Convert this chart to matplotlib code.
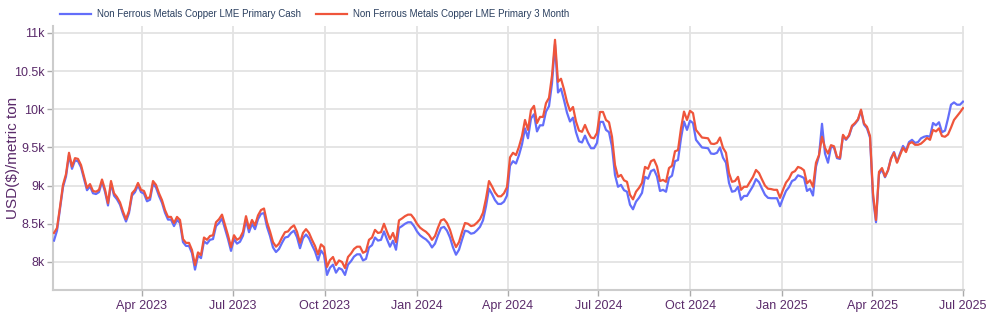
from matplotlib import pyplot as plt
import matplotlib.dates as mdates
import numpy as np
import pandas as pd

# ---- data (roughly every 3 days) ----
start_date = "2023-01-03"
end_date = "2025-07-01"

three_month = [
    8380, 8445, 8720, 9010, 9150, 9430, 9250, 9360, 9350, 9270,
    9120, 8970, 9020, 8930, 8920, 8945, 9080, 8950, 8770, 9060,
    8900, 8850, 8780, 8660, 8560, 8670, 8900, 8945, 9035, 8945,
    8930, 8830, 8850, 9060, 9010, 8900, 8810, 8680, 8590, 8590,
    8510, 8590, 8550, 8300, 8250, 8250, 8155, 7960, 8125, 8090,
    8320, 8290, 8340, 8350, 8520, 8560, 8620, 8485, 8350, 8195,
    8350, 8290, 8315, 8395, 8600, 8440, 8550, 8480, 8610, 8680,
    8700, 8520, 8400, 8260, 8200, 8240, 8320, 8390, 8400, 8450,
    8480, 8395, 8250, 8380, 8430, 8380, 8290, 8210, 8100, 8230,
    8195, 7935, 8025, 8065, 7960, 8020, 8000, 7920, 8065, 8110,
    8170, 8200, 8200, 8120, 8140, 8290, 8320, 8420, 8380, 8390,
    8500, 8395, 8300, 8380, 8260, 8545, 8570, 8600, 8620, 8620,
    8570, 8500, 8450, 8420, 8395, 8355, 8290, 8340, 8450, 8545,
    8560, 8510, 8420, 8290, 8195, 8260, 8390, 8510, 8500, 8470,
    8480, 8515, 8560, 8645, 8830, 9060, 8990, 8910, 8860, 8860,
    8900, 8980, 9370, 9430, 9400, 9510, 9650, 9860, 9730, 9990,
    10045, 9820, 9900, 9900, 10080, 10150, 10440, 10910, 10360, 10400,
    10260, 10095, 9980, 10030, 9840, 9720, 9705, 9795, 9700, 9630,
    9620, 9690, 9965, 9965, 9860, 9830, 9640, 9270, 9115, 9140,
    9070, 9050, 8880, 8820, 8920, 8970, 9035, 9245, 9220, 9320,
    9340, 9250, 9060, 9075, 9050, 9230, 9260, 9450, 9465, 9750,
    9970, 9860, 9980, 9950, 9730, 9680, 9630, 9625, 9620, 9550,
    9545, 9560, 9630, 9495, 9430, 9165, 9050, 9060, 9115, 8945,
    8985, 8985, 9050, 9115, 9205, 9165, 9080, 9000, 8960, 8955,
    8945, 8945, 8840, 8945, 9040, 9090, 9170, 9190, 9245, 9230,
    9200, 9030, 9070, 8985, 9300, 9400, 9640, 9495, 9420, 9530,
    9515, 9375, 9365, 9665, 9610, 9660, 9785, 9820, 9870, 9995,
    9815, 9770, 9650, 8900, 8550, 9180, 9230, 9120, 9200, 9350,
    9430, 9300, 9400, 9495, 9440, 9550, 9570, 9535, 9535, 9550,
    9585, 9625, 9600, 9730, 9710, 9750, 9650, 9640, 9670, 9760,
    9860, 9910, 9960, 10015,
]

cash = [
    8280, 8410, 8690, 8980, 9120, 9400, 9220, 9330, 9320, 9240,
    9090, 8940, 8990, 8900, 8890, 8915, 9050, 8920, 8740, 9030,
    8870, 8820, 8750, 8630, 8530, 8640, 8870, 8915, 9005, 8915,
    8895, 8795, 8815, 9025, 8975, 8865, 8775, 8645, 8555, 8555,
    8470, 8550, 8510, 8260, 8210, 8210, 8115, 7900, 8085, 8050,
    8270, 8240, 8290, 8300, 8470, 8510, 8570, 8435, 8300, 8145,
    8300, 8240, 8265, 8345, 8550, 8390, 8500, 8430, 8560, 8630,
    8640, 8460, 8340, 8190, 8130, 8170, 8250, 8320, 8330, 8380,
    8410, 8325, 8180, 8310, 8360, 8310, 8220, 8140, 8020, 8150,
    8095, 7830, 7925, 7965, 7860, 7920, 7900, 7830, 7965, 8010,
    8070, 8100, 8100, 8020, 8040, 8190, 8220, 8320, 8280, 8290,
    8400, 8295, 8200, 8280, 8160, 8445, 8470, 8500, 8520, 8520,
    8470, 8400, 8350, 8320, 8295, 8255, 8190, 8240, 8350, 8445,
    8460, 8410, 8320, 8190, 8095, 8160, 8290, 8410, 8400, 8370,
    8380, 8415, 8460, 8545, 8730, 8960, 8890, 8810, 8760, 8760,
    8790, 8870, 9260, 9320, 9290, 9400, 9540, 9750, 9620, 9880,
    9935, 9710, 9790, 9790, 9970, 10040, 10340, 10850, 10220, 10270,
    10120, 9955, 9840, 9890, 9700, 9580, 9565, 9655, 9560, 9490,
    9490, 9560, 9835, 9835, 9730, 9700, 9510, 9140, 8985, 9010,
    8940, 8920, 8750, 8690, 8790, 8840, 8905, 9115, 9090, 9190,
    9210, 9120, 8930, 8945, 8920, 9100, 9130, 9320, 9335, 9620,
    9840, 9730, 9850, 9820, 9600, 9550, 9500, 9495, 9490, 9420,
    9415, 9430, 9500, 9365, 9300, 9035, 8920, 8930, 8985, 8815,
    8865, 8865, 8930, 8995, 9085, 9045, 8960, 8880, 8840, 8835,
    8835, 8835, 8730, 8835, 8930, 8980, 9060, 9080, 9135, 9120,
    9100, 8930, 8960, 8870, 9250, 9390, 9810, 9420, 9300, 9510,
    9500, 9360, 9350, 9650, 9600, 9650, 9770, 9810, 9860, 9980,
    9800, 9750, 9630, 8840, 8520, 9150, 9210, 9110, 9200, 9360,
    9440, 9310, 9420, 9520, 9460, 9570, 9600, 9560, 9570, 9620,
    9640, 9650, 9640, 9820, 9790, 9830, 9700, 9720, 9880, 10060,
    10090, 10060, 10060, 10100,
]

series_names = ["Non Ferrous Metals Copper LME Primary Cash",
                "Non Ferrous Metals Copper LME Primary 3 Month"]
y_ticks = [8000, 8500, 9000, 9500, 10000, 10500, 11000]
y_labels = ["8k", "8.5k", "9k", "9.5k", "10k", "10.5k", "11k"]

dates = pd.date_range(start_date, end_date, periods=len(three_month))

# ---- style ----
plt.rcParams['font.family'] = ['Liberation Sans', 'DejaVu Sans']
purple = "#5a2a6a"
grid_c = "#e3e3e3"

fig = plt.figure(figsize=(10, 3.24), dpi=100)
ax = fig.add_axes([0.053, 0.105, 0.911, 0.815])

ax.plot(dates, cash, color="#636efa", lw=1.6, label=series_names[0], zorder=3)
ax.plot(dates, three_month, color="#ef553b", lw=1.6, label=series_names[1], zorder=4)

ax.set_xlim(pd.Timestamp("2023-01-02"), pd.Timestamp("2025-07-02"))
ax.set_ylim(7633, 11092)

ax.xaxis.set_major_locator(mdates.MonthLocator(bymonth=[1, 4, 7, 10]))
ax.xaxis.set_major_formatter(mdates.DateFormatter("%b %Y"))
ax.set_yticks(y_ticks)
ax.set_yticklabels(y_labels)

ax.grid(True, color=grid_c, lw=1.3)
ax.set_axisbelow(True)
for s in ["top", "right"]:
    ax.spines[s].set_visible(False)
for s in ["left", "bottom"]:
    ax.spines[s].set_color("#cccccc")
    ax.spines[s].set_linewidth(1.5)

ax.tick_params(axis="both", colors="#aaaaaa", labelcolor=purple,
               labelsize=9, length=4, width=1)
ax.tick_params(axis="y", pad=2)
ax.set_ylabel("USD($)/metric ton", color=purple, fontsize=11)
ax.yaxis.set_label_coords(-0.036, 0.5)

# first x tick (Jan 2023) has no label in the reference
labels = [t.get_text() for t in ax.get_xticklabels()]
ax.set_xticks(ax.get_xticks())
ax.set_xticklabels(["" if l == "Jan 2023" else l for l in labels])

ax.legend(loc="lower left", bbox_to_anchor=(0.0, 1.0), ncol=2, frameon=False,
          fontsize=7, labelcolor="#2a3f5f", handlelength=3.2,
          columnspacing=1.6, borderaxespad=0.3, handletextpad=0.6)

fig.savefig("out.png", dpi=100)
